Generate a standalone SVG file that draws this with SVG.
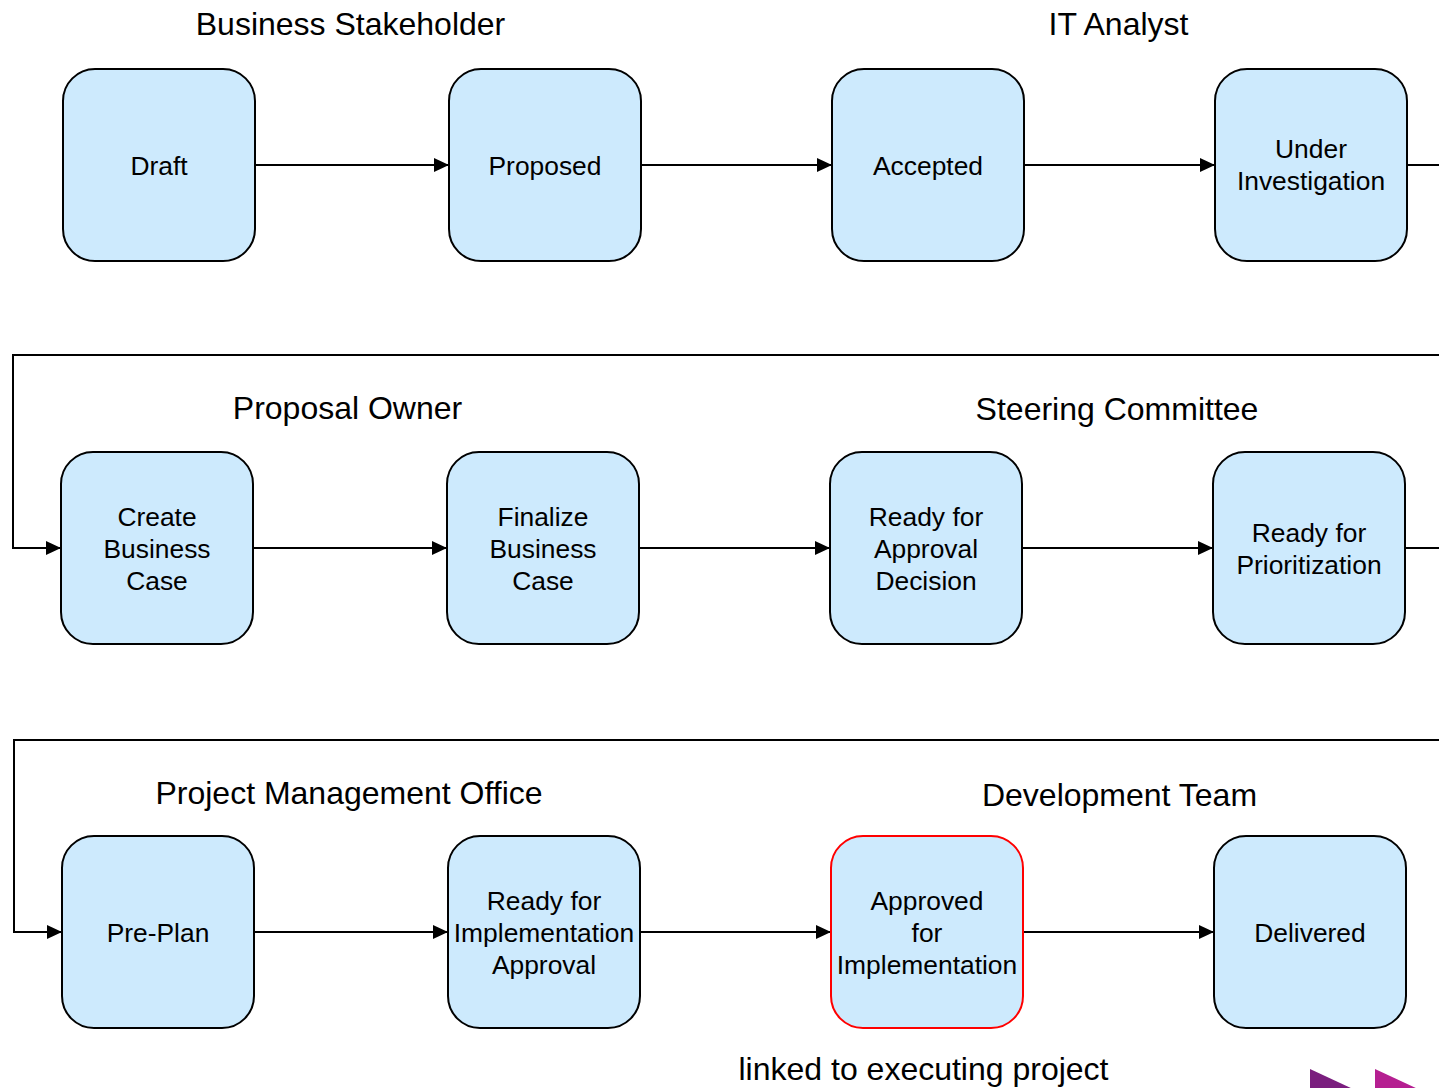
<svg xmlns="http://www.w3.org/2000/svg" width="1439" height="1088" viewBox="0 0 1439 1088">
<style>
.node{fill:#cdeafd;stroke:#000;stroke-width:2}
.red{stroke:#ff0000}
.nt{font-family:"Liberation Sans",Arial,sans-serif;font-size:26.4px;fill:#000;text-anchor:middle}
.hd{font-family:"Liberation Sans",Arial,sans-serif;font-size:32px;fill:#000;text-anchor:middle}
.edge{fill:none;stroke:#000;stroke-width:2}
</style>
<defs>
<marker id="arr" markerUnits="userSpaceOnUse" markerWidth="16" markerHeight="14" refX="15" refY="7" orient="auto">
<path d="M0,0 L15,7 L0,14 z" fill="#000"/>
</marker>
</defs>
<rect width="1439" height="1088" fill="#fff"/>
<g id="headers">
<text class="hd" x="350.5" y="35">Business Stakeholder</text>
<text class="hd" x="1118.5" y="35">IT Analyst</text>
<text class="hd" x="347.5" y="419">Proposal Owner</text>
<text class="hd" x="1117" y="420">Steering Committee</text>
<text class="hd" x="349" y="804">Project Management Office</text>
<text class="hd" x="1119.5" y="806">Development Team</text>
<text class="hd" x="923.5" y="1080">linked to executing project</text>
</g>
<g id="connectors">
<line class="edge" x1="255" y1="165" x2="449" y2="165" marker-end="url(#arr)"/>
<line class="edge" x1="641" y1="165" x2="832" y2="165" marker-end="url(#arr)"/>
<line class="edge" x1="1024" y1="165" x2="1215" y2="165" marker-end="url(#arr)"/>
<line class="edge" x1="1407" y1="165" x2="1440" y2="165"/>
<polyline class="edge" points="1440,355 13,355 13,548 61,548" marker-end="url(#arr)"/>
<line class="edge" x1="253" y1="548" x2="447" y2="548" marker-end="url(#arr)"/>
<line class="edge" x1="639" y1="548" x2="830" y2="548" marker-end="url(#arr)"/>
<line class="edge" x1="1022" y1="548" x2="1213" y2="548" marker-end="url(#arr)"/>
<line class="edge" x1="1405" y1="548" x2="1440" y2="548"/>
<polyline class="edge" points="1440,740 14,740 14,932 62,932" marker-end="url(#arr)"/>
<line class="edge" x1="254" y1="932" x2="448" y2="932" marker-end="url(#arr)"/>
<line class="edge" x1="640" y1="932" x2="831" y2="932" marker-end="url(#arr)"/>
<line class="edge" x1="1023" y1="932" x2="1214" y2="932" marker-end="url(#arr)"/>
</g>
<g id="draft"><rect class="node" x="63" y="69" width="192" height="192" rx="32"/><text class="nt" x="159" y="175">Draft</text></g>
<g id="proposed"><rect class="node" x="449" y="69" width="192" height="192" rx="32"/><text class="nt" x="545" y="175">Proposed</text></g>
<g id="accepted"><rect class="node" x="832" y="69" width="192" height="192" rx="32"/><text class="nt" x="928" y="175">Accepted</text></g>
<g id="under-investigation"><rect class="node" x="1215" y="69" width="192" height="192" rx="32"/><text class="nt" x="1311" y="158">Under</text><text class="nt" x="1311" y="190">Investigation</text></g>
<g id="create-business-case"><rect class="node" x="61" y="452" width="192" height="192" rx="32"/><text class="nt" x="157" y="526">Create</text><text class="nt" x="157" y="558">Business</text><text class="nt" x="157" y="590">Case</text></g>
<g id="finalize-business-case"><rect class="node" x="447" y="452" width="192" height="192" rx="32"/><text class="nt" x="543" y="526">Finalize</text><text class="nt" x="543" y="558">Business</text><text class="nt" x="543" y="590">Case</text></g>
<g id="ready-for-approval-decision"><rect class="node" x="830" y="452" width="192" height="192" rx="32"/><text class="nt" x="926" y="526">Ready for</text><text class="nt" x="926" y="558">Approval</text><text class="nt" x="926" y="590">Decision</text></g>
<g id="ready-for-prioritization"><rect class="node" x="1213" y="452" width="192" height="192" rx="32"/><text class="nt" x="1309" y="542">Ready for</text><text class="nt" x="1309" y="574">Prioritization</text></g>
<g id="pre-plan"><rect class="node" x="62" y="836" width="192" height="192" rx="32"/><text class="nt" x="158" y="942">Pre-Plan</text></g>
<g id="ready-for-implementation-approval"><rect class="node" x="448" y="836" width="192" height="192" rx="32"/><text class="nt" x="544" y="910">Ready for</text><text class="nt" x="544" y="942">Implementation</text><text class="nt" x="544" y="974">Approval</text></g>
<g id="approved-for-implementation"><rect class="node red" x="831" y="836" width="192" height="192" rx="32"/><text class="nt" x="927" y="910">Approved</text><text class="nt" x="927" y="942">for</text><text class="nt" x="927" y="974">Implementation</text></g>
<g id="delivered"><rect class="node" x="1214" y="836" width="192" height="192" rx="32"/><text class="nt" x="1310" y="942">Delivered</text></g>
<g id="icons">
<polygon points="1310,1069 1353,1089 1310,1110" fill="#7a1e7e"/>
<polygon points="1375,1069 1418,1089 1375,1110" fill="#b51f91"/>
</g>
</svg>
